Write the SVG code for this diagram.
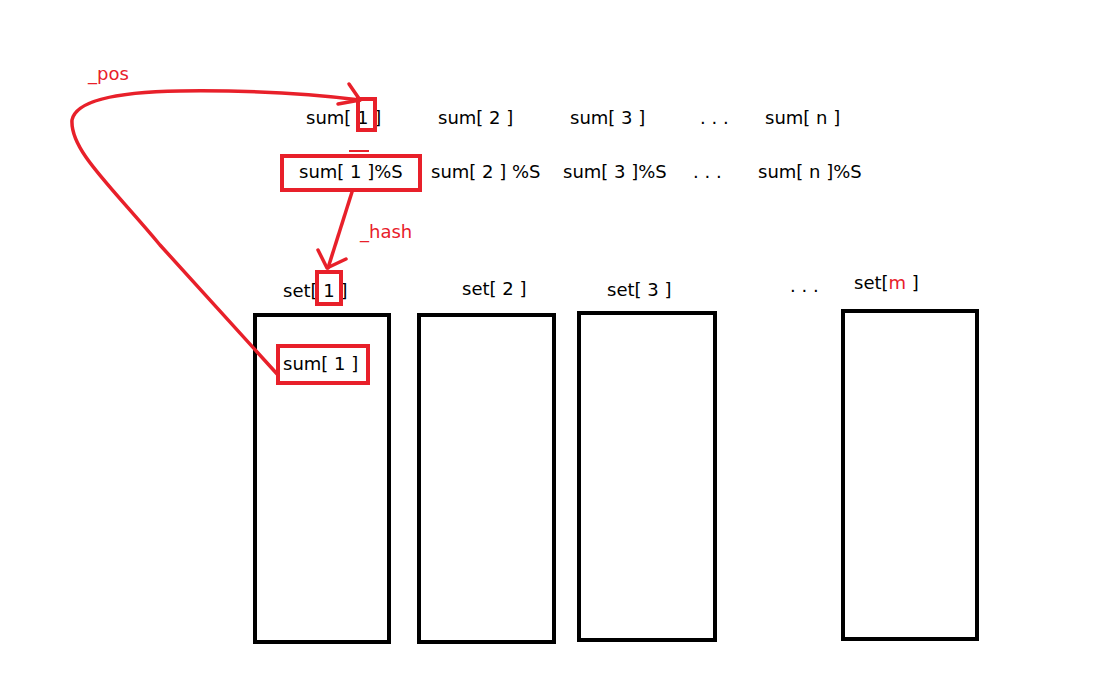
<svg xmlns="http://www.w3.org/2000/svg" width="1118" height="685" viewBox="0 0 1118 685">
<style>
text{font-family:"DejaVu Sans","Liberation Sans",sans-serif;font-size:18px;fill:#000}
.r{fill:#e8202a}
.b{fill:none;stroke:#000;stroke-width:4}
.rb{fill:none;stroke:#e8202a;stroke-width:4}
.rl{fill:none;stroke:#e8202a;stroke-width:3.5;stroke-linecap:round;stroke-linejoin:round}
</style>
<rect width="1118" height="685" fill="#fff"/>
<g id="row1">
<text x="306" y="124">sum[ 1 ]</text>
<text x="438" y="124">sum[ 2 ]</text>
<text x="570" y="124">sum[ 3 ]</text>
<text x="700" y="124">. . .</text>
<text x="765" y="124">sum[ n ]</text>
<rect class="rb" x="358" y="99" width="17" height="31"/>
</g>
<g id="row2">
<text x="299" y="178">sum[ 1 ]%S</text>
<text x="431" y="178">sum[ 2 ] %S</text>
<text x="563" y="178">sum[ 3 ]%S</text>
<text x="693" y="178">. . .</text>
<text x="758" y="178">sum[ n ]%S</text>
<rect class="rb" x="282" y="156" width="138" height="34"/>
<line x1="349" y1="151" x2="369" y2="151" stroke="#e8202a" stroke-width="2"/>
</g>
<g id="set1">
<text x="283" y="297">set[ 1 ]</text>
<rect class="rb" x="317" y="272" width="24" height="32"/>
<rect class="b" x="255" y="315" width="134" height="327"/>
<text x="283" y="370">sum[ 1 ]</text>
<rect class="rb" x="278" y="346" width="90" height="37"/>
</g>
<g id="set2">
<text x="462" y="295">set[ 2 ]</text>
<rect class="b" x="419" y="315" width="135" height="327"/>
</g>
<g id="set3">
<text x="607" y="296">set[ 3 ]</text>
<rect class="b" x="579" y="313" width="136" height="327"/>
</g>
<g id="setm">
<text x="790" y="292">. . .</text>
<text x="854" y="289">set[<tspan class="r">m</tspan> ]</text>
<rect class="b" x="843" y="311" width="134" height="328"/>
</g>
<g id="connectors">
<path class="rl" d="M278,375 L160,245 C110,185 70,150 72,120 C76,100 120,92 180,91 C260,90 320,95 360,100"/>
<path class="rl" d="M349,84 L360,100 L338,104"/>
<text class="r" x="88" y="80">_pos</text>
<path class="rl" d="M352,192 L328,268"/>
<path class="rl" d="M318,250 L327,268 L346,259"/>
<text class="r" x="360" y="238">_hash</text>
</g>
</svg>
